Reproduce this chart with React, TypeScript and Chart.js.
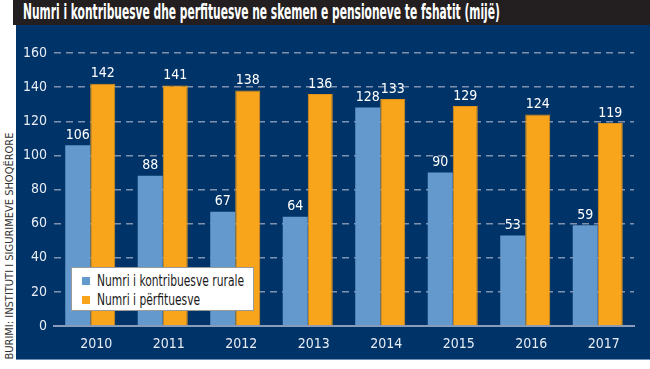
import React, { useEffect, useLayoutEffect, useRef } from 'react';
import { Chart, registerables } from 'chart.js';

Chart.register(...registerables);

const TITLE = 'Numri i kontribuesve dhe perfituesve ne skemen e pensioneve te fshatit (mijë)';
const SOURCE = 'BURIMI: INSTITUTI I SIGURIMEVE SHOQËRORE';
const years = ['2010', '2011', '2012', '2013', '2014', '2015', '2016', '2017'];
const contributors = [106, 88, 67, 64, 128, 90, 53, 59];
const beneficiaries = [142, 141, 138, 136, 133, 129, 124, 119];
const seriesLabels = ['Numri i kontribuesve rurale', 'Numri i përfituesve'];
const seriesColors = ['#6499cd', '#f8a51b'];
const yMin = 0;
const yMax = 160;
const yStep = 20;

const NARROW = '"DejaVu Sans Condensed", "Liberation Sans Narrow", "Roboto", sans-serif';
const NAVY = '#003469';

const valueLabels = {
  id: 'valueLabels',
  afterDatasetsDraw(chart: any) {
    const ctx = chart.ctx;
    ctx.save();
    ctx.fillStyle = '#ffffff';
    ctx.font = '14px ' + NARROW;
    ctx.textAlign = 'center';
    ctx.textBaseline = 'bottom';
    chart.data.datasets.forEach((ds: any, i: number) => {
      chart.getDatasetMeta(i).data.forEach((el: any, j: number) => {
        ctx.fillText(String(ds.data[j]), el.x, el.y - 3);
      });
    });
    ctx.restore();
  },
};

export default function App() {
  const canvasRef = useRef<HTMLCanvasElement | null>(null);
  const titleRef = useRef<HTMLDivElement | null>(null);
  const legendRefs = useRef<(HTMLSpanElement | null)[]>([]);

  useLayoutEffect(() => {
    const t = titleRef.current;
    if (t) {
      const w = t.scrollWidth;
      if (w > 0) t.style.transform = 'scaleX(' + 477 / w + ')';
    }
    const first = legendRefs.current[0];
    if (first) {
      const s = 147 / first.scrollWidth;
      legendRefs.current.forEach((el) => {
        if (el) el.style.transform = 'scaleX(' + s + ')';
      });
    }
  }, []);

  useEffect(() => {
    const chart = new Chart(canvasRef.current as HTMLCanvasElement, {
      type: 'bar',
      data: {
        labels: years,
        datasets: [
          {
            label: seriesLabels[0],
            data: contributors,
            backgroundColor: seriesColors[0],
            borderWidth: 0,
            categoryPercentage: 0.69,
            barPercentage: 1.0,
          },
          {
            label: seriesLabels[1],
            data: beneficiaries,
            backgroundColor: seriesColors[1],
            borderColor: '#e0921a',
            borderWidth: 1,
            categoryPercentage: 0.69,
            barPercentage: 1.0,
          },
        ],
      },
      options: {
        responsive: true,
        maintainAspectRatio: false,
        animation: false,
        layout: { padding: { top: 28, right: 16, left: 0, bottom: 0 } },
        plugins: {
          legend: { display: false },
          tooltip: { enabled: false },
          title: { display: false },
        },
        scales: {
          x: {
            grid: { display: false },
            border: { display: true, color: '#8b9cb8', width: 2 },
            ticks: {
              color: '#e8edf4',
              font: { family: NARROW, size: 14 },
              padding: 2,
              labelOffset: 6,
            },
            afterFit: (s: any) => {
              s.height = 33;
            },
          },
          y: {
            min: yMin,
            max: yMax,
            ticks: {
              stepSize: yStep,
              color: '#e8edf4',
              font: { family: NARROW, size: 14 },
              padding: 7,
            },
            grid: {
              drawTicks: false,
              color: (c: any) => (c.tick && c.tick.value === 0 ? 'rgba(0,0,0,0)' : '#8191ad'),
              lineWidth: 1.5,
            },
            border: { display: false, dash: [7, 5] },
            afterFit: (s: any) => {
              s.width = 38;
            },
          },
        },
      },
      plugins: [valueLabels],
    } as any);
    return () => chart.destroy();
  }, []);

  return (
    <div style={{ position: 'fixed', left: 0, top: 0, width: 650, height: 369, background: '#ffffff', overflow: 'hidden' }}>
      <div
        style={{
          position: 'absolute',
          left: 13,
          top: 0,
          width: 637,
          height: 25,
          background: '#231f20',
          overflow: 'hidden',
        }}
      >
        <div
          ref={titleRef}
          style={{
            position: 'absolute',
            left: 10,
            top: 0,
            color: '#ffffff',
            fontFamily: NARROW,
            fontWeight: 'bold',
            fontSize: 21,
            lineHeight: '24px',
            whiteSpace: 'nowrap',
            display: 'inline-block',
            transformOrigin: 'left center',
          }}
        >
          {TITLE}
        </div>
      </div>
      <div
        style={{
          position: 'absolute',
          left: 16,
          top: 25,
          width: 634,
          height: 335,
          background: NAVY,
          borderBottom: '1px solid #6f8db5',
          boxSizing: 'border-box',
        }}
      >
        <canvas ref={canvasRef} />
      </div>
      <div
        style={{
          position: 'absolute',
          left: 71,
          top: 267,
          width: 183,
          height: 44,
          background: '#ffffff',
          border: '1px solid #9a9a9a',
          boxSizing: 'border-box',
        }}
      >
        {seriesLabels.map((lab, i) => (
          <div key={lab} style={{ position: 'absolute', left: 10, top: 4 + i * 19, height: 18, display: 'flex', alignItems: 'center' }}>
            <div style={{ width: 8, height: 8, background: seriesColors[i], marginRight: 7, flex: 'none' }} />
            <span
              ref={(el) => {
                legendRefs.current[i] = el;
              }}
              style={{
                fontFamily: NARROW,
                fontSize: 15,
                color: '#1a1a1a',
                whiteSpace: 'nowrap',
                display: 'inline-block',
                transformOrigin: 'left center',
              }}
            >
              {lab}
            </span>
          </div>
        ))}
      </div>
      <div
        style={{
          position: 'absolute',
          left: 9,
          top: 246,
          transform: 'translate(-50%, -50%) rotate(-90deg)',
          fontFamily: NARROW,
          fontSize: 11,
          color: '#333333',
          whiteSpace: 'nowrap',
        }}
      >
        {SOURCE}
      </div>
    </div>
  );
}
